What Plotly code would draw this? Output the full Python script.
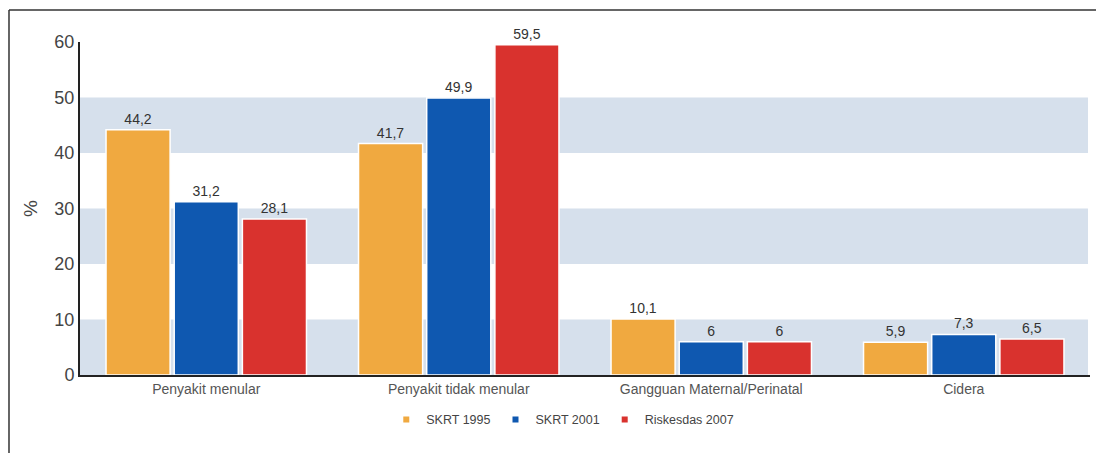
import plotly.graph_objects as go

categories = ["Penyakit menular", "Penyakit tidak menular", "Gangguan Maternal/Perinatal", "Cidera"]
series_names = ["SKRT 1995", "SKRT 2001", "Riskesdas 2007"]
skrt1995 = [44.2, 41.7, 10.1, 5.9]
skrt2001 = [31.2, 49.9, 6, 7.3]
riskesdas2007 = [28.1, 59.5, 6, 6.5]
colors = ["#F0A940", "#0F58B0", "#D9322E"]
y_ticks = [0, 10, 20, 30, 40, 50, 60]
bands = [(0, 10), (20, 30), (40, 50)]


def fmt(v):
    s = ("%g" % v)
    return s.replace(".", ",")


fig = go.Figure()
for name, vals, col in zip(series_names, [skrt1995, skrt2001, riskesdas2007], colors):
    fig.add_trace(go.Bar(
        x=categories, y=vals, name=name,
        marker=dict(color=col, line=dict(color="white", width=1.5)),
        text=[fmt(v) for v in vals], textposition="outside",
        textfont=dict(family="Liberation Sans, Arial", size=14, color="#333333"),
        cliponaxis=False, showlegend=False,
    ))
# legend markers
for name, col in zip(series_names, colors):
    fig.add_trace(go.Scatter(
        x=[None], y=[None], mode="markers", name=name,
        marker=dict(symbol="square", size=6, color=col),
        showlegend=True,
    ))

shapes = []
for lo, hi in bands:
    shapes.append(dict(type="rect", xref="paper", yref="y", x0=0, x1=0.998, y0=lo, y1=hi,
                       fillcolor="#D6E0EC", line=dict(width=0), layer="below"))
# outer frame lines (top and left)
shapes.append(dict(type="line", xref="paper", yref="paper", x0=-0.0703, x1=1.02, y0=1.096, y1=1.096,
                   line=dict(color="#333333", width=1.5)))
shapes.append(dict(type="line", xref="paper", yref="paper", x0=-0.0703, x1=-0.0703, y0=1.096, y1=-0.24,
                   line=dict(color="#333333", width=1.5)))

fig.update_layout(
    width=1096, height=445,
    margin=dict(l=72, r=14, t=34, b=78),
    paper_bgcolor="white", plot_bgcolor="white",
    barmode="group", bargap=0.19, bargroupgap=0.06,
    font=dict(family="Liberation Sans, Arial", color="#444444"),
    shapes=shapes,
    legend=dict(orientation="h", x=0.478, xanchor="center", y=-0.135, yanchor="middle",
                font=dict(size=12.5, color="#444444"), itemwidth=30),
    xaxis=dict(showline=True, linecolor="#222222", linewidth=2, ticks="",
               tickfont=dict(size=14, color="#555555"), showgrid=False),
    yaxis=dict(range=[0, 60], tickvals=y_ticks, showline=True, linecolor="#222222", linewidth=2,
               showgrid=False, zeroline=False, ticks="", tickfont=dict(size=18, color="#444444"),
               title=dict(text="%", font=dict(size=19, color="#444444"), standoff=12)),
)

fig.write_html("out.html")
